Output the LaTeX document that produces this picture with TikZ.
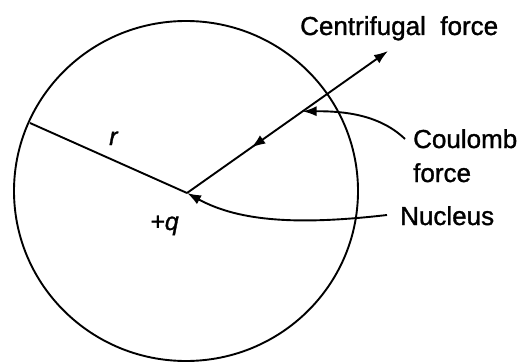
\documentclass[tikz,border=0pt]{standalone}
\usepackage{fontspec}
\setmainfont{Liberation Sans}[RawFeature={embolden=1.2}]
\usetikzlibrary{arrows.meta,decorations.markings,calc}
\tikzset{
  lbl/.style={inner sep=0pt, anchor=base west, font=\fontsize{26}{28}\selectfont},
  mlbl/.style={inner sep=0pt, anchor=base west, font=\itshape\fontsize{25}{28}\selectfont},
  ln/.style={line width=1.9pt, black},
  midarrow/.style={postaction={decorate}, decoration={markings, mark=at position #1 with {\arrow{Latex[length=14pt,width=10pt]}}}}
}
\begin{document}
\begin{tikzpicture}[x=1pt,y=-1pt]
\useasboundingbox (0,0) rectangle (521,361);
\draw[ln] (186,191) ellipse [x radius=172, y radius=170];
\coordinate (N) at (187,193);
\coordinate (R) at (30,123);
\coordinate (F) at (388,51);
\coordinate (C) at ($(N)!0.575!(F)$);
\draw[ln] (R) -- (N);
\draw[ln, {Latex[length=14pt,width=10pt]}-, midarrow=0.68] (F) -- (N);
\node[lbl] (cf) at (300,35) {Centrifugal\ \ force};
\node[lbl] (co) at (413,148) {Coulomb};
\node[lbl] (fo) at (413,182) {force};
\node[lbl] (nu) at (400,225) {Nucleus};
\node[mlbl] (q) at (150,230) {+q};
\node[mlbl] (r) at (109,145) {r};
\draw[ln, -{Latex[length=14pt,width=10pt]}] (405,139) .. controls (380,115) and (345,111) .. (C);
\draw[ln, -{Latex[length=14pt,width=10pt]}] (387,215) .. controls (300,225) and (240,222) .. (N);
\end{tikzpicture}
\end{document}
